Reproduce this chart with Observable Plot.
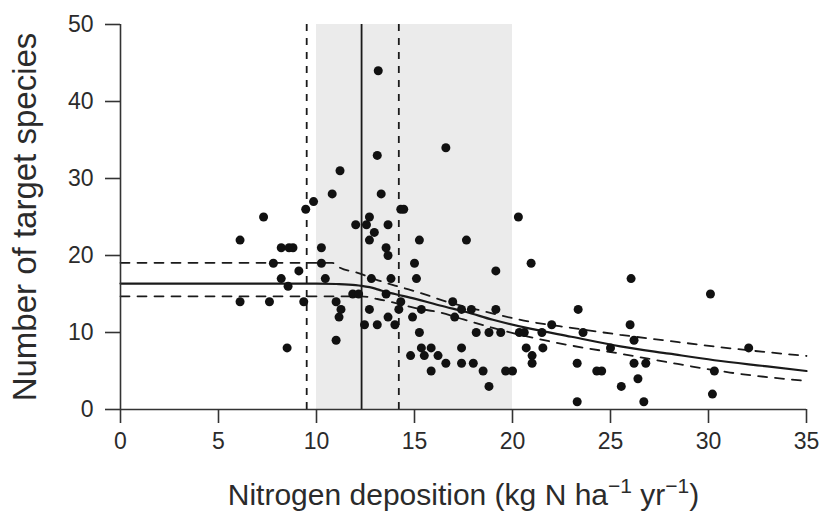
<!DOCTYPE html>
<html>
<head>
<meta charset="utf-8">
<script src="https://cdn.jsdelivr.net/npm/d3@7"></script>
<script src="https://cdn.jsdelivr.net/npm/@observablehq/plot@0.6"></script>
<style>
  body { margin: 0; background: #fff; }
  #chart svg { display: block; }
</style>
</head>
<body>
<div id="chart"></div>
<script>
// Observed sites: nitrogen deposition (x) and number of target species (y)
const depositionX = [
  6.1, 6.1, 7.3, 7.6, 7.8, 8.2, 8.6, 8.8, 8.2, 8.55, 8.5, 9.1, 9.35, 9.45, 9.85, 10.25, 10.25, 10.45, 10.8, 11.0, 11.0, 11.15, 11.25, 11.2, 11.85, 12.15,
  12.0, 12.55, 12.7, 12.95, 13.65, 12.7, 13.55, 13.65, 13.1, 13.15, 13.3, 16.6, 14.3, 14.45, 15.25, 17.65, 15.0, 15.1, 19.15, 20.3, 20.95, 12.8, 13.8, 13.55,
  14.3, 12.7, 14.2, 15.35, 13.65, 14.9, 12.45, 13.1, 14.0, 16.95, 17.4, 17.9, 17.05, 19.15, 15.25, 18.15, 18.8, 19.4, 20.35, 20.6, 21.5, 22.0,
  15.35, 15.5, 15.85, 16.2, 14.8, 17.4, 16.6, 17.4, 18.0, 15.85, 18.5, 19.65, 20.0, 18.8, 20.7, 21.0, 21.0, 21.55,
  23.35, 23.6, 23.3, 23.3, 24.3, 24.55, 25.0, 26.05, 26.0, 26.2, 26.2, 26.8, 26.4, 25.55, 26.7, 30.1, 30.3, 30.2, 32.05
];
const targetSpecies = [
  22, 14, 25, 14, 19, 21, 21, 21, 17, 16, 8, 18, 14, 26, 27, 21, 19, 17, 28, 14, 9, 12, 13, 31, 15, 15,
  24, 24, 25, 23, 24, 22, 21, 20, 33, 44, 28, 34, 26, 26, 22, 22, 19, 17, 18, 25, 19, 17, 17, 15,
  14, 13, 13, 13, 12, 12, 11, 11, 11, 14, 13, 13, 12, 13, 10, 10, 10, 10, 10, 10, 10, 11,
  8, 7, 8, 7, 7, 8, 6, 6, 6, 5, 5, 5, 5, 3, 8, 7, 6, 8,
  13, 10, 6, 1, 5, 5, 8, 17, 11, 9, 6, 6, 4, 3, 1, 15, 5, 2, 8
];

// Fitted threshold model and its confidence limits
const fitX = [0, 10, 11, 12, 12.3, 13, 13.3, 14, 15, 15.6, 16.3, 17.6, 19, 20.9, 23, 25.5, 28, 30.3, 33, 35];
const fitY = [16.35, 16.35, 16.3, 16.15, 16.05, 15.7, 15.45, 15.0, 14.4, 14.0, 13.5, 12.7, 11.65, 10.5, 9.45, 8.2, 7.25, 6.4, 5.6, 5.0];
const upperX = [0, 10.8, 11.2, 12.1, 13, 14, 14.7, 15.65, 16.5, 18, 20.9, 23, 25.5, 28, 31.1, 35];
const upperY = [19.05, 19.05, 18.4, 17.75, 16.9, 16.1, 15.6, 14.85, 14.1, 13.1, 11.4, 10.6, 9.7, 8.9, 7.95, 6.95];
const lowerX = [0, 12.3, 13.1, 14, 15, 16.3, 17.5, 19, 20.9, 23, 25.5, 28, 31.1, 35];
const lowerY = [14.7, 14.7, 14.35, 13.85, 13.2, 12.6, 11.7, 10.6, 9.4, 8.3, 7.25, 6.1, 4.8, 3.7];

// Threshold estimate and its confidence interval; shaded critical-load range
const thresholdEstimate = [12.3];
const thresholdLimits = [9.5, 14.2];
const criticalLoadRange = [10, 20];

const xTicks = [0, 5, 10, 15, 20, 25, 30, 35];
const yTicks = [0, 10, 20, 30, 40, 50];
const xTitleParts = ["Nitrogen deposition (kg N ha", "\u22121", " yr", "\u22121", ")"];
const xTitle = xTitleParts.join("");
const yTitle = "Number of target species";

const points = depositionX.map((x, i) => ({x, y: targetSpecies[i]}));
const fit = fitX.map((x, i) => ({x, y: fitY[i]}));
const upper = upperX.map((x, i) => ({x, y: upperY[i]}));
const lower = lowerX.map((x, i) => ({x, y: lowerY[i]}));
const band = [{x1: criticalLoadRange[0], x2: criticalLoadRange[1]}];

const ink = "#1a1a1a";
const textInk = "#2b2b2b";
const titleSize = 30;

const chart = Plot.plot({
  width: 820,
  height: 520,
  marginLeft: 120,
  marginRight: 14,
  marginTop: 24,
  marginBottom: 111,
  style: {fontFamily: "'Liberation Sans', Arial, Helvetica, sans-serif", background: "#fff", color: textInk},
  x: {domain: [0, 35]},
  y: {domain: [0, 50]},
  marks: [
    Plot.rect(band, {x1: "x1", x2: "x2", y1: 0, y2: 50, fill: "#ebebeb"}),
    Plot.ruleX(thresholdLimits, {y1: 0, y2: 50, stroke: ink, strokeWidth: 1.8, strokeDasharray: "7,7"}),
    Plot.ruleX(thresholdEstimate, {y1: 0, y2: 50, stroke: ink, strokeWidth: 1.8}),
    Plot.line(upper, {x: "x", y: "y", stroke: ink, strokeWidth: 1.8, strokeDasharray: "9,8", curve: "monotone-x"}),
    Plot.line(lower, {x: "x", y: "y", stroke: ink, strokeWidth: 1.8, strokeDasharray: "9,8", curve: "monotone-x"}),
    Plot.line(fit, {x: "x", y: "y", stroke: ink, strokeWidth: 2.2, curve: "monotone-x"}),
    Plot.dot(points, {x: "x", y: "y", r: 4.5, fill: "#111", stroke: "none"}),
    Plot.ruleY([0], {stroke: "#333", strokeWidth: 1.6}),
    Plot.ruleX([0], {y1: 0, y2: 50, stroke: "#333", strokeWidth: 1.6}),
    Plot.axisX({ticks: xTicks, tickSize: 14, tickPadding: 9, fontSize: 23, label: null, stroke: "#333", strokeWidth: 1.6, fill: textInk}),
    Plot.axisY({ticks: yTicks, tickSize: 15, tickPadding: 12, fontSize: 23, label: null, stroke: "#333", strokeWidth: 1.6, fill: textInk}),
    Plot.text([yTitle], {frameAnchor: "left", dx: -95, rotate: -90, textAnchor: "middle", fontSize: 33, fill: textInk, text: d => d}),
    Plot.text([xTitle], {frameAnchor: "bottom", dy: 95, textAnchor: "middle", fontSize: titleSize, fill: textInk, text: d => d})
  ]
});

// Typeset the x title with raised exponents
d3.select(chart).selectAll("text")
  .filter(function() { return this.textContent === xTitle; })
  .each(function() {
    const t = d3.select(this);
    t.text(null);
    const rise = Math.round(titleSize * 0.4);
    const small = Math.round(titleSize * 0.7);
    t.append("tspan").text(xTitleParts[0]);
    t.append("tspan").attr("dy", -rise).attr("font-size", small).text(xTitleParts[1]);
    t.append("tspan").attr("dy", rise).text(xTitleParts[2]);
    t.append("tspan").attr("dy", -rise).attr("font-size", small).text(xTitleParts[3]);
    t.append("tspan").attr("dy", rise).text(xTitleParts[4]);
  });

document.getElementById("chart").appendChild(chart);
</script>
</body>
</html>
